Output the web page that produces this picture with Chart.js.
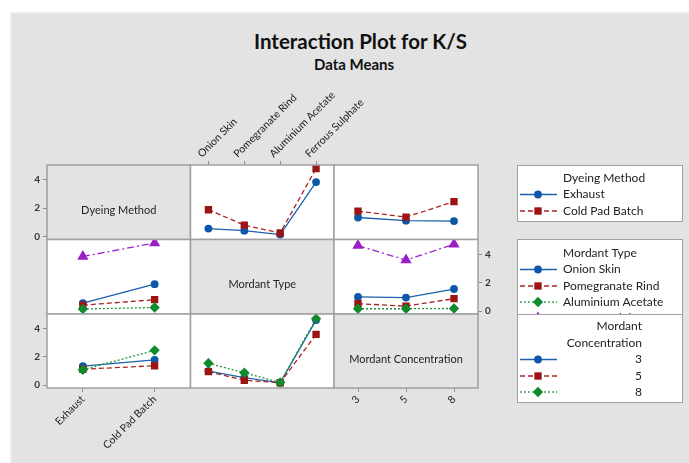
<!DOCTYPE html>
<html>
<head>
<meta charset="utf-8">
<script src="https://cdn.jsdelivr.net/npm/chart.js@4/dist/chart.umd.min.js"></script>
<style>
  body { margin: 0; background: #fff; }
  #page { position: relative; width: 689px; height: 463px; overflow: hidden; font-family: Lato, sans-serif; }
  #bg { position: absolute; left: 10px; top: 12px; right: 0; bottom: 0; background: #e3e3e3; border-left: 2px solid #ececec; border-top: 2px solid #ececec; }
  #page canvas { position: absolute; left: 0; top: 0; }
  .title { position: absolute; left: 254px; width: 200px; text-align: center; color: #111; font-weight: bold; white-space: nowrap; }
</style>
</head>
<body>
<div id="page">
  <div id="bg"></div>
  <div class="title" style="top:29px;font-size:20.5px;">Interaction Plot for K/S</div>
  <div class="title" style="top:55px;font-size:15px;">Data Means</div>
</div>
<script>
// factor levels
const dyeingMethods = ["Exhaust", "Cold Pad Batch"];
const mordantTypes = ["Onion Skin", "Pomegranate Rind", "Aluminium Acetate", "Ferrous Sulphate"];
const concentrations = ["3", "5", "8"];
const yTicks = [0, 2, 4];

// K/S means: dyeing method x mordant type
const exhaustByMordant = [0.57, 0.42, 0.15, 3.85];
const coldPadByMordant = [1.90, 0.81, 0.26, 4.80];
// dyeing method x mordant concentration
const exhaustByConc = [1.35, 1.13, 1.10];
const coldPadByConc = [1.80, 1.38, 2.47];
// mordant type x mordant concentration
const onionByConc = [1.00, 0.96, 1.56];
const pomegranateByConc = [0.53, 0.35, 0.88];
const aluminiumByConc = [0.17, 0.17, 0.19];
const ferrousByConc = [4.62, 3.60, 4.72];

// series styles (1st level, 2nd, 3rd, 4th)
const lineColors = ["#1b5fae", "#a82424", "#23943a", "#9b24c8"];
const markerColors = ["#0d57a8", "#9c1414", "#0f8a2c", "#9b1cc9"];
const dashes = [[], [5, 3], [2, 2], [7, 3, 2, 3]];
const shapes = ["circle", "rect", "rectRot", "triangle"];
const radii = [3.9, 5.2, 5.2, 6.5];

const Y_MIN = -0.2, Y_MAX = 5.05;
const gx = [47, 190.5, 334, 478];
const gy = [165, 239.5, 314, 388];
const W = 689, H = 463;
const AXW = 22, AXH = 90;
const FONT = "Lato, sans-serif";

Chart.defaults.font.family = FONT;
Chart.defaults.font.size = 10;
Chart.defaults.color = "#333";

function transpose(rows) {
  return rows[0].map((_, i) => rows.map((r) => r[i]));
}

function makeDatasets(series) {
  const n = series.length;
  return series.map((vals, i) => ({
    data: vals,
    borderColor: lineColors[i],
    borderWidth: 1.3,
    borderDash: dashes[i],
    pointStyle: shapes[i],
    pointRadius: radii[i],
    pointBackgroundColor: markerColors[i],
    pointBorderColor: markerColors[i],
    pointBorderWidth: 0,
    tension: 0,
    clip: 0,
    order: n - i,
  }));
}

// background, frame and diagonal label for one cell
const cellFrame = {
  id: "cellFrame",
  beforeDraw(chart, args, opts) {
    const a = chart.chartArea, ctx = chart.ctx;
    ctx.save();
    ctx.fillStyle = opts.fill;
    ctx.fillRect(a.left, a.top, a.right - a.left, a.bottom - a.top);
    ctx.restore();
  },
  afterDraw(chart, args, opts) {
    const a = chart.chartArea, ctx = chart.ctx;
    ctx.save();
    ctx.strokeStyle = "#a0a0a0";
    ctx.lineWidth = 1.5;
    ctx.strokeRect(a.left, a.top, a.right - a.left, a.bottom - a.top);
    if (opts.label) {
      ctx.fillStyle = "#1e1e1e";
      ctx.font = "11px " + FONT;
      ctx.textAlign = "center";
      ctx.textBaseline = "middle";
      ctx.fillText(opts.label, (a.left + a.right) / 2, (a.top + a.bottom) / 2 + 8);
    }
    ctx.restore();
  },
};

const cells = [
  { r: 0, c: 0, diag: "Dyeing Method", labels: dyeingMethods, yAxis: "left" },
  { r: 0, c: 1, labels: mordantTypes, series: [exhaustByMordant, coldPadByMordant], xAxis: "top" },
  { r: 0, c: 2, labels: concentrations, series: [exhaustByConc, coldPadByConc] },
  { r: 1, c: 0, labels: dyeingMethods, series: transpose([exhaustByMordant, coldPadByMordant]) },
  { r: 1, c: 1, diag: "Mordant Type", labels: mordantTypes },
  { r: 1, c: 2, labels: concentrations, series: [onionByConc, pomegranateByConc, aluminiumByConc, ferrousByConc], yAxis: "right" },
  { r: 2, c: 0, labels: dyeingMethods, series: transpose([exhaustByConc, coldPadByConc]), yAxis: "left", xAxis: "bottom" },
  { r: 2, c: 1, labels: mordantTypes, series: transpose([onionByConc, pomegranateByConc, aluminiumByConc, ferrousByConc]) },
  { r: 2, c: 2, diag: "Mordant Concentration", labels: concentrations, xAxis: "bottom" },
];

const page = document.getElementById("page");

cells.forEach((cell) => {
  const canvas = document.createElement("canvas");
  canvas.width = W;
  canvas.height = H;
  page.appendChild(canvas);

  const padding = {
    left: gx[cell.c] - (cell.yAxis === "left" ? AXW : 0),
    right: W - gx[cell.c + 1] - (cell.yAxis === "right" ? AXW : 0),
    top: gy[cell.r] - (cell.xAxis === "top" ? AXH : 0),
    bottom: H - gy[cell.r + 1] - (cell.xAxis === "bottom" ? AXH : 0),
  };

  new Chart(canvas.getContext("2d"), {
    type: "line",
    data: {
      labels: cell.labels,
      datasets: cell.series ? makeDatasets(cell.series) : [],
    },
    options: {
      responsive: false,
      animation: false,
      devicePixelRatio: 1,
      layout: { padding: padding },
      events: [],
      plugins: {
        legend: { display: false },
        tooltip: { enabled: false },
        cellFrame: { fill: cell.diag ? "#e3e3e3" : "#ffffff", label: cell.diag || "" },
      },
      scales: {
        x: {
          type: "category",
          offset: true,
          display: !!cell.xAxis,
          position: cell.xAxis || "bottom",
          afterFit: (s) => { s.height = cell.xAxis ? AXH : 0; },
          grid: { drawOnChartArea: false, drawTicks: true, tickLength: 4, color: "#8c8c8c" },
          border: { display: false },
          ticks: { autoSkip: false, minRotation: 45, maxRotation: 45, padding: 1, color: "#222", font: { size: 10.5 } },
        },
        y: {
          type: "linear",
          min: Y_MIN,
          max: Y_MAX,
          display: !!cell.yAxis,
          position: cell.yAxis || "left",
          afterFit: (s) => { s.width = cell.yAxis ? AXW : 0; },
          afterBuildTicks: (s) => { s.ticks = yTicks.map((v) => ({ value: v })); },
          grid: { drawOnChartArea: false, drawTicks: true, tickLength: 4, color: "#8c8c8c" },
          border: { display: false },
          ticks: { padding: 3, color: "#333", font: { size: 10, weight: "bold" } },
        },
      },
    },
    plugins: [cellFrame],
  });
});

// legends on the right
const legendCanvas = document.createElement("canvas");
legendCanvas.width = W;
legendCanvas.height = H;
page.appendChild(legendCanvas);
const lg = legendCanvas.getContext("2d");

function drawMarker(ctx, i, x, y) {
  Chart.helpers.drawPoint(ctx, { pointStyle: shapes[i], radius: radii[i], borderWidth: 0 }, x, y);
}

function legendBox(top, bottom, titleLines, titleAlign, names, rowY, nameAlign) {
  lg.save();
  lg.fillStyle = "#fff";
  lg.fillRect(517, top, 165, bottom - top);
  lg.strokeStyle = "#a0a0a0";
  lg.lineWidth = 1;
  lg.strokeRect(517.5, top + 0.5, 165, bottom - top);
  lg.fillStyle = "#222";
  lg.font = "12px " + FONT;
  lg.textBaseline = "middle";
  titleLines.forEach((t) => {
    lg.textAlign = titleAlign;
    lg.fillText(t.text, titleAlign === "right" ? 642 : 563, t.y);
  });
  names.forEach((name, i) => {
    const y = rowY[i];
    lg.save();
    lg.strokeStyle = lineColors[i];
    lg.lineWidth = 1.3;
    lg.setLineDash(dashes[i]);
    lg.beginPath();
    lg.moveTo(520, y);
    lg.lineTo(557, y);
    lg.stroke();
    lg.restore();
    lg.fillStyle = markerColors[i];
    drawMarker(lg, i, 538, y);
    lg.fillStyle = "#222";
    lg.textAlign = nameAlign;
    lg.fillText(name, nameAlign === "right" ? 642 : 563, y);
  });
  lg.restore();
}

legendBox(165, 221, [{ text: "Dyeing Method", y: 178 }], "left", dyeingMethods, [194.5, 211], "left");
legendBox(239, 335, [{ text: "Mordant Type", y: 253 }], "left", mordantTypes, [269.5, 286, 302, 318], "left");
legendBox(314, 402, [{ text: "Mordant", y: 326.5 }, { text: "Concentration", y: 343 }], "right", concentrations, [359.5, 376, 392], "right");
</script>
</body>
</html>
